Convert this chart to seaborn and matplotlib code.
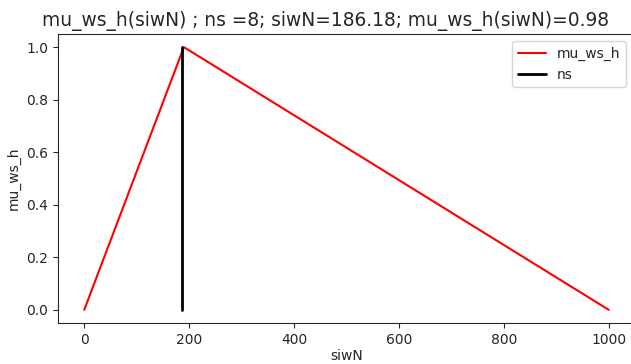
import pandas as pd
import matplotlib
matplotlib.use("Agg")
import matplotlib.pyplot as plt
import seaborn as sns

# membership function (triangle) and the current point
mu_x = [0, 190, 1000]
mu_y = [0.0, 1.0, 0.0]
ns_x = [186.18, 186.18]
ns_y = [0.0, 1.0]

sns.set_style("ticks")
plt.rcParams['font.family'] = ['DejaVu Sans']

fig = plt.figure(figsize=(6.31, 3.64), dpi=100)
ax = fig.add_axes([58 / 631, 41 / 364, 577 / 631, 289 / 364])

df_mu = pd.DataFrame({"siwN": mu_x, "mu": mu_y})
df_ns = pd.DataFrame({"siwN": ns_x, "mu": ns_y})
sns.lineplot(data=df_mu, x="siwN", y="mu", color="red", linewidth=1.5,
             label="mu_ws_h", estimator=None, sort=False, ax=ax)
sns.lineplot(data=df_ns, x="siwN", y="mu", color="black", linewidth=2,
             label="ns", estimator=None, sort=False, ax=ax)

ax.set_xlim(-50, 1050)
ax.set_ylim(-0.05, 1.05)
ax.set_xticks([0, 200, 400, 600, 800, 1000])
ax.set_yticks([0.0, 0.2, 0.4, 0.6, 0.8, 1.0])
ax.set_xlabel("siwN", labelpad=2)
ax.set_ylabel("mu_ws_h")
ax.set_title("mu_ws_h(siwN) ; ns =8; siwN=186.18; mu_ws_h(siwN)=0.98", fontsize=13.4, x=0.463)
ax.legend(loc="upper right", bbox_to_anchor=(0.996, 1.0))

fig.savefig("out.png", dpi=100)
